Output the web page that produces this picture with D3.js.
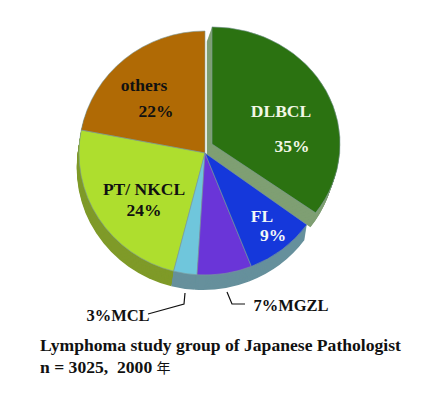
<!DOCTYPE html>
<html>
<head>
<meta charset="utf-8">
<script src="https://cdn.jsdelivr.net/npm/d3@7"></script>
<style>
html, body { margin: 0; padding: 0; background: #fff; }
svg { display: block; }
text { font-family: "Liberation Serif", serif; font-weight: bold; }
</style>
</head>
<body>
<div id="chart"></div>
<script>
const ancho = 426
const alto = 394

// clockwise from 12 o'clock
const categorias = ["DLBCL", "FL", "MGZL", "MCL", "PT/ NKCL", "others"]
const valores = [35, 9, 7, 3, 24, 22]
const coloresCara = ["#2b7211", "#1538db", "#6a35d8", "#6fc6dc", "#aede2e", "#b06a05"]
const coloresLado = ["#7f9f73", "#66909c", "#66909c", "#66909c", "#7f9a28", "#7d5a20"]

const centro = { x: 205, y: 153 }
const radio = 122
const fondo = 15
const normal = { x: 0, y: 0, ex: 1.033, ey: 1, sesgo: -0.15 }
// the pulled out slice sits a bit flatter in the original
const separado = { DLBCL: { x: 7, y: -9, ex: 1.05, ey: 0.96, sesgo: -0.33 } }

const svg = d3.select("#chart").append("svg").attr("width", ancho).attr("height", alto)
const grupoTarta = svg.append("g").attr("id", "grupoTarta")

const pie = d3.pie().sort(null).value(d => d.valor)
const arco = d3.arc().innerRadius(0).outerRadius(radio)

const datos = categorias.map((c, i) => ({
    categoria: c, valor: valores[i], cara: coloresCara[i], lado: coloresLado[i]
}))
const porciones = pie(datos)

function colocar(d) {
    const p = separado[d.data.categoria] || normal
    return `translate(${centro.x + p.x}, ${centro.y + p.y}) scale(${p.ex}, ${p.ey})`
}

// the exploded slice goes on top of the others
const orden = porciones.slice().reverse()

orden.forEach(d => {
    const p = separado[d.data.categoria] || normal
    const g = grupoTarta.append("g").attr("transform", colocar(d))
    for (let i = fondo; i > 0; i--) {
        g.append("path")
            .attr("d", arco(d))
            .attr("transform", `translate(${p.sesgo * i}, ${i})`)
            .attr("fill", d.data.lado)
    }
})

orden.forEach(d => {
    grupoTarta.append("path")
        .attr("d", arco(d))
        .attr("transform", colocar(d))
        .attr("fill", d.data.cara)
        .attr("stroke", "#7d9a9a")
        .attr("stroke-width", 0.6)
})

const etiquetas = [
    { t: "DLBCL", x: 281, y: 117, s: 17.5, c: "#f2f7e6" },
    { t: "35%", x: 292, y: 152, s: 17.5, c: "#f2f7e6" },
    { t: "others", x: 144, y: 91, s: 17.5, c: "#111" },
    { t: "22%", x: 156, y: 117, s: 17.5, c: "#111" },
    { t: "PT/ NKCL", x: 144, y: 195, s: 17.5, c: "#111" },
    { t: "24%", x: 144, y: 216, s: 17.5, c: "#111" },
    { t: "FL", x: 262, y: 222, s: 17.5, c: "#f2f7f7" },
    { t: "9%", x: 273, y: 241, s: 17.5, c: "#f2f7f7" },
    { t: "3%MCL", x: 118, y: 321, s: 16.5, c: "#111" },
    { t: "7%MGZL", x: 291, y: 311, s: 16.5, c: "#111" }
]

svg.append("g").selectAll("text").data(etiquetas).join("text")
    .attr("x", d => d.x)
    .attr("y", d => d.y)
    .attr("text-anchor", "middle")
    .attr("font-size", d => d.s)
    .attr("fill", d => d.c)
    .text(d => d.t)

const guias = [
    [[185, 293], [184, 304], [148, 314]],
    [[227, 292], [232, 304], [245, 304]]
]
const linea = d3.line()
svg.append("g").selectAll("path").data(guias).join("path")
    .attr("d", linea)
    .attr("fill", "none")
    .attr("stroke", "#111")
    .attr("stroke-width", 1.2)

svg.append("text")
    .attr("x", 40).attr("y", 350.5)
    .attr("font-size", 17.6)
    .attr("fill", "#111")
    .text("Lymphoma study group of Japanese Pathologist")

const pieDeTexto = svg.append("text")
    .attr("x", 40).attr("y", 372.5)
    .attr("font-size", 17.6)
    .attr("fill", "#111")
pieDeTexto.append("tspan").text("n = 3025,  2000 ").style("white-space", "pre")
pieDeTexto.append("tspan").text("年")
    .attr("font-size", 14)
    .style("font-family", '"Noto Sans CJK JP"').style("font-weight", "normal")
</script>
</body>
</html>
